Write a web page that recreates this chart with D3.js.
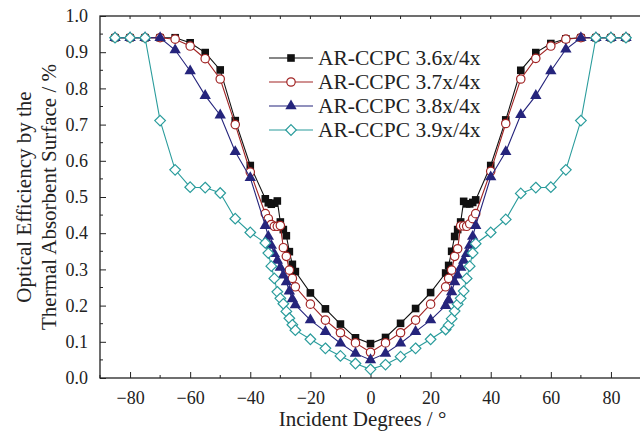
<!DOCTYPE html>
<html>
<head>
<meta charset="utf-8">
<script src="https://cdn.jsdelivr.net/npm/d3@7"></script>
<style>
  body { margin: 0; background: #fff; }
  text { font-family: "Liberation Serif", "Times New Roman", Times, serif; fill: #222; }
</style>
</head>
<body>
<div id="chart"></div>
<script>
const width = 640;
const height = 436;

// incident angles (degrees)
const angles = [
  -85, -80, -75, -70, -65, -60, -55, -50, -45, -40,
  -35, -34, -33, -32, -31, -30, -29, -28, -27, -26, -25,
  -20, -15, -10, -5, 0, 5, 10, 15, 20,
  25, 26, 27, 28, 29, 30, 31, 32, 33, 34, 35,
  40, 45, 50, 55, 60, 65, 70, 75, 80, 85
];

const ccpc36 = [
  0.94, 0.94, 0.94, 0.94, 0.94, 0.926, 0.899, 0.851, 0.711, 0.587,
  0.495, 0.484, 0.48, 0.483, 0.489, 0.431, 0.41, 0.393, 0.349, 0.314, 0.294,
  0.235, 0.191, 0.149, 0.111, 0.095, 0.112, 0.151, 0.192, 0.236,
  0.29, 0.311, 0.35, 0.391, 0.41, 0.431, 0.488, 0.481, 0.481, 0.485, 0.492,
  0.587, 0.713, 0.85, 0.899, 0.924, 0.937, 0.94, 0.94, 0.94, 0.94
];

const ccpc37 = [
  0.94, 0.94, 0.94, 0.94, 0.936, 0.917, 0.882, 0.826, 0.70, 0.569,
  0.454, 0.44, 0.424, 0.419, 0.419, 0.421, 0.36, 0.336, 0.298, 0.275, 0.252,
  0.204, 0.16, 0.125, 0.097, 0.071, 0.097, 0.125, 0.16, 0.204,
  0.252, 0.275, 0.298, 0.336, 0.357, 0.42, 0.42, 0.419, 0.426, 0.44, 0.454,
  0.571, 0.703, 0.826, 0.883, 0.917, 0.936, 0.94, 0.94, 0.94, 0.94
];

const ccpc38 = [
  0.94, 0.94, 0.94, 0.94, 0.906, 0.848, 0.78, 0.726, 0.625, 0.553,
  0.421, 0.391, 0.366, 0.343, 0.325, 0.305, 0.284, 0.265, 0.240, 0.218, 0.202,
  0.16, 0.128, 0.096, 0.068, 0.05, 0.068, 0.096, 0.128, 0.16,
  0.2, 0.215, 0.238, 0.265, 0.284, 0.305, 0.325, 0.343, 0.366, 0.391, 0.421,
  0.555, 0.625, 0.727, 0.78, 0.848, 0.908, 0.94, 0.94, 0.94, 0.94
];

const ccpc39 = [
  0.94, 0.94, 0.94, 0.711, 0.575, 0.527, 0.526, 0.511, 0.44, 0.402,
  0.373, 0.345, 0.309, 0.275, 0.238, 0.22, 0.205, 0.184, 0.165, 0.147, 0.132,
  0.107, 0.082, 0.061, 0.04, 0.024, 0.037, 0.059, 0.082, 0.107,
  0.134, 0.146, 0.164, 0.185, 0.204, 0.22, 0.24, 0.275, 0.309, 0.345, 0.371,
  0.402, 0.438, 0.51, 0.526, 0.527, 0.575, 0.711, 0.94, 0.94, 0.94
];

const seriesNames = ["AR-CCPC 3.6x/4x", "AR-CCPC 3.7x/4x", "AR-CCPC 3.8x/4x", "AR-CCPC 3.9x/4x"];
const seriesValues = [ccpc36, ccpc37, ccpc38, ccpc39];
const seriesColors = ["#111111", "#a12424", "#25247c", "#2a9c9c"];
const seriesMarkers = ["square", "circle", "triangle", "diamond"];

const xTicks = [-80, -60, -40, -20, 0, 20, 40, 60, 80];
const yTicks = [0.0, 0.1, 0.2, 0.3, 0.4, 0.5, 0.6, 0.7, 0.8, 0.9, 1.0];

const margin = { left: 100, right: -1, top: 16, bottom: 58 };

const svg = d3
  .select("#chart")
  .append("svg")
  .attr("width", width)
  .attr("height", height);

const x = d3.scaleLinear().domain([-90, 90]).range([margin.left, width - margin.right]);
const y = d3.scaleLinear().domain([0, 1]).range([height - margin.bottom, margin.top]);

// frame
svg
  .append("rect")
  .attr("x", x(-90))
  .attr("y", y(1))
  .attr("width", x(90) - x(-90))
  .attr("height", y(0) - y(1))
  .attr("fill", "none")
  .attr("stroke", "#222")
  .attr("stroke-width", 1.3);

// bottom axis, ticks pointing inward
const xAxis = svg
  .append("g")
  .attr("transform", `translate(0,${y(0)})`)
  .call(
    d3.axisBottom(x)
      .tickValues(xTicks)
      .tickSize(-6)
      .tickPadding(13)
      .tickFormat(d3.format("d"))
  );
xAxis.attr("font-family", null);
xAxis.select(".domain").remove();
xAxis.selectAll("line").attr("stroke", "#222");
xAxis.selectAll("text").style("font-size", "18px").attr("fill", "#222");

// minor x ticks
svg
  .append("g")
  .selectAll("line")
  .data(d3.range(-90, 91, 10).filter((d) => d % 20 !== 0))
  .enter()
  .append("line")
  .attr("x1", (d) => x(d))
  .attr("x2", (d) => x(d))
  .attr("y1", y(0))
  .attr("y2", y(0) - 3)
  .attr("stroke", "#222");

// top ticks
svg
  .append("g")
  .selectAll("line")
  .data(d3.range(-80, 91, 10))
  .enter()
  .append("line")
  .attr("x1", (d) => x(d))
  .attr("x2", (d) => x(d))
  .attr("y1", y(1))
  .attr("y2", y(1) + 3)
  .attr("stroke", "#222");

// left axis
const yAxis = svg
  .append("g")
  .attr("transform", `translate(${x(-90)},0)`)
  .call(
    d3.axisLeft(y)
      .tickValues(yTicks)
      .tickSize(-6)
      .tickPadding(12)
      .tickFormat(d3.format(".1f"))
  );
yAxis.attr("font-family", null);
yAxis.select(".domain").remove();
yAxis.selectAll("line").attr("stroke", "#222");
yAxis.selectAll("text").style("font-size", "18px").attr("fill", "#222");

// minor y ticks
svg
  .append("g")
  .selectAll("line")
  .data(d3.range(0.05, 1, 0.1))
  .enter()
  .append("line")
  .attr("x1", x(-90))
  .attr("x2", x(-90) + 3)
  .attr("y1", (d) => y(d))
  .attr("y2", (d) => y(d))
  .attr("stroke", "#222");

// axis titles
svg
  .append("text")
  .attr("x", (x(-90) + x(90)) / 2 - 8)
  .attr("y", 426)
  .attr("text-anchor", "middle")
  .style("font-size", "21px")
  .text("Incident Degrees / °");

const yTitle = svg
  .append("text")
  .attr("transform", `translate(0,${(y(0) + y(1)) / 2}) rotate(-90)`)
  .attr("text-anchor", "middle")
  .style("font-size", "21px");
yTitle.append("tspan").attr("x", 0).attr("y", 31).text("Optical Efficiency by the");
yTitle.append("tspan").attr("x", 0).attr("y", 56).text("Thermal Absorbent Surface / %");

// marker drawing
function drawMarker(g, type, color, cx, cy) {
  if (type === "square") {
    g.append("rect")
      .attr("x", cx - 3.8)
      .attr("y", cy - 3.8)
      .attr("width", 7.6)
      .attr("height", 7.6)
      .attr("fill", color);
  } else if (type === "circle") {
    g.append("circle")
      .attr("cx", cx)
      .attr("cy", cy)
      .attr("r", 4.2)
      .attr("fill", "#fff")
      .attr("stroke", color)
      .attr("stroke-width", 1.2);
  } else if (type === "triangle") {
    g.append("path")
      .attr("d", d3.symbol().type(d3.symbolTriangle).size(56)())
      .attr("transform", `translate(${cx},${cy})`)
      .attr("fill", color);
  } else {
    g.append("path")
      .attr("d", `M0,-5.3L5.3,0L0,5.3L-5.3,0Z`)
      .attr("transform", `translate(${cx},${cy})`)
      .attr("fill", "#fff")
      .attr("stroke", color)
      .attr("stroke-width", 1.2);
  }
}

const line = d3
  .line()
  .x((d) => x(d[0]))
  .y((d) => y(d[1]));

seriesValues.forEach((vals, i) => {
  const pts = angles.map((a, j) => [a, vals[j]]);
  const g = svg.append("g");
  g.append("path")
    .attr("d", line(pts))
    .attr("fill", "none")
    .attr("stroke", seriesColors[i])
    .attr("stroke-width", 1.1);
  pts.forEach((p) => drawMarker(g, seriesMarkers[i], seriesColors[i], x(p[0]), y(p[1])));
});

// legend
const legend = svg.append("g");
seriesNames.forEach((name, i) => {
  const ly = 58 + i * 24;
  legend
    .append("line")
    .attr("x1", 269)
    .attr("x2", 313)
    .attr("y1", ly)
    .attr("y2", ly)
    .attr("stroke", seriesColors[i])
    .attr("stroke-width", 1.1);
  drawMarker(legend, seriesMarkers[i], seriesColors[i], 291, ly);
  legend
    .append("text")
    .attr("x", 318)
    .attr("y", ly + 7)
    .style("font-size", "21.5px")
    .text(name);
});
</script>
</body>
</html>
